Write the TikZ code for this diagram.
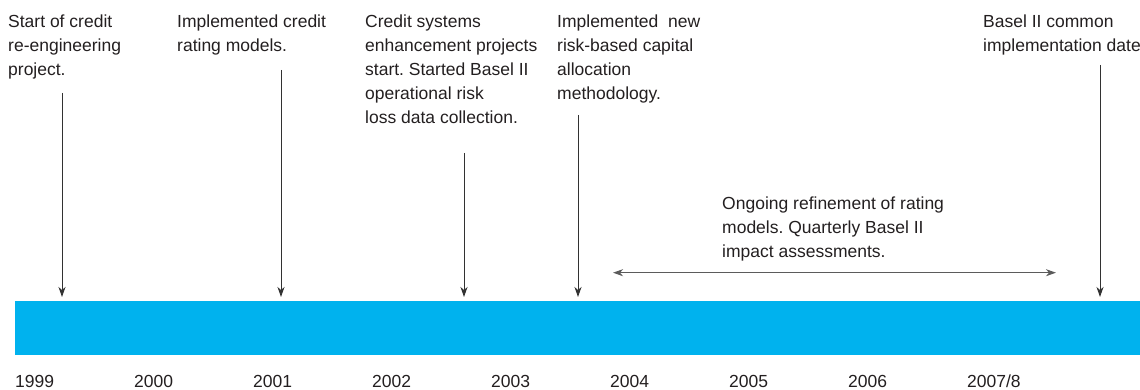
\documentclass[tikz,border=0pt]{standalone}
\usepackage{fontspec}
\setmainfont{Liberation Sans}
\usetikzlibrary{arrows.meta}
\definecolor{barblue}{RGB}{0,178,238}
\definecolor{ink}{RGB}{35,31,32}
\definecolor{linegray}{RGB}{50,50,50}
\frenchspacing
\begin{document}
\begin{tikzpicture}[x=1pt,y=-1pt,
  note/.style={anchor=north west,inner sep=0pt,align=left,text=ink,
    font=\fontsize{17.5}{24}\selectfont},
  year/.style={anchor=base west,inner sep=0pt,text=ink,
    font=\fontsize{17.5}{24}\selectfont},
  arr/.style={draw=linegray,line width=1pt,-{Stealth[length=10pt,width=7pt,inset=3pt]},
    shorten >=4pt},
  span/.style={draw=linegray!80,line width=1.3pt,
    {Stealth[length=10pt,width=7pt,inset=3pt]}-{Stealth[length=10pt,width=7pt,inset=3pt]}}]
\useasboundingbox (0,0) rectangle (1140,390);

% timeline bar
\node (bar) [fill=barblue,inner sep=0pt,minimum width=1125pt,minimum height=54pt,
  anchor=north west] at (15,301) {};

% event texts
\node (t1) [note] at (8,14.3) {Start of credit\\re-engineering\\project.};
\node (t2) [note] at (177,14.3) {Implemented credit\\rating models.};
\node (t3) [note] at (365,14.3) {Credit systems\\enhancement projects\\start. Started Basel II\\operational risk\\loss data collection.};
\node (t4) [note] at (557,14.3) {Implemented\ \ new\\risk-based capital\\allocation\\methodology.};
\node (t5) [note] at (983,14.3) {Basel II common\\implementation date};
\node (t6) [note] at (722,196.3) {Ongoing refinement of rating\\models. Quarterly Basel II\\impact assessments.};

% arrow start points
\coordinate (s1) at (62,93);
\coordinate (s2) at (281,70);
\coordinate (s3) at (464,153);
\coordinate (s4) at (578,115);
\coordinate (s5) at (1100,65);
\foreach \s in {s1,s2,s3,s4,s5}
  \draw[arr] (\s) -- (\s |- bar.north);

% ongoing period
\coordinate (r1) at (613,272.7);
\coordinate (r2) at (1056,272.7);
\draw[span] (r1) -- (r2);

% year labels
\foreach \lab [count=\i from 0] in {1999,2000,2001,2002,2003,2004,2005,2006,2007/8}
  \node (y\i) [year] at ({15+119*\i},387) {\lab};
\end{tikzpicture}
\end{document}
